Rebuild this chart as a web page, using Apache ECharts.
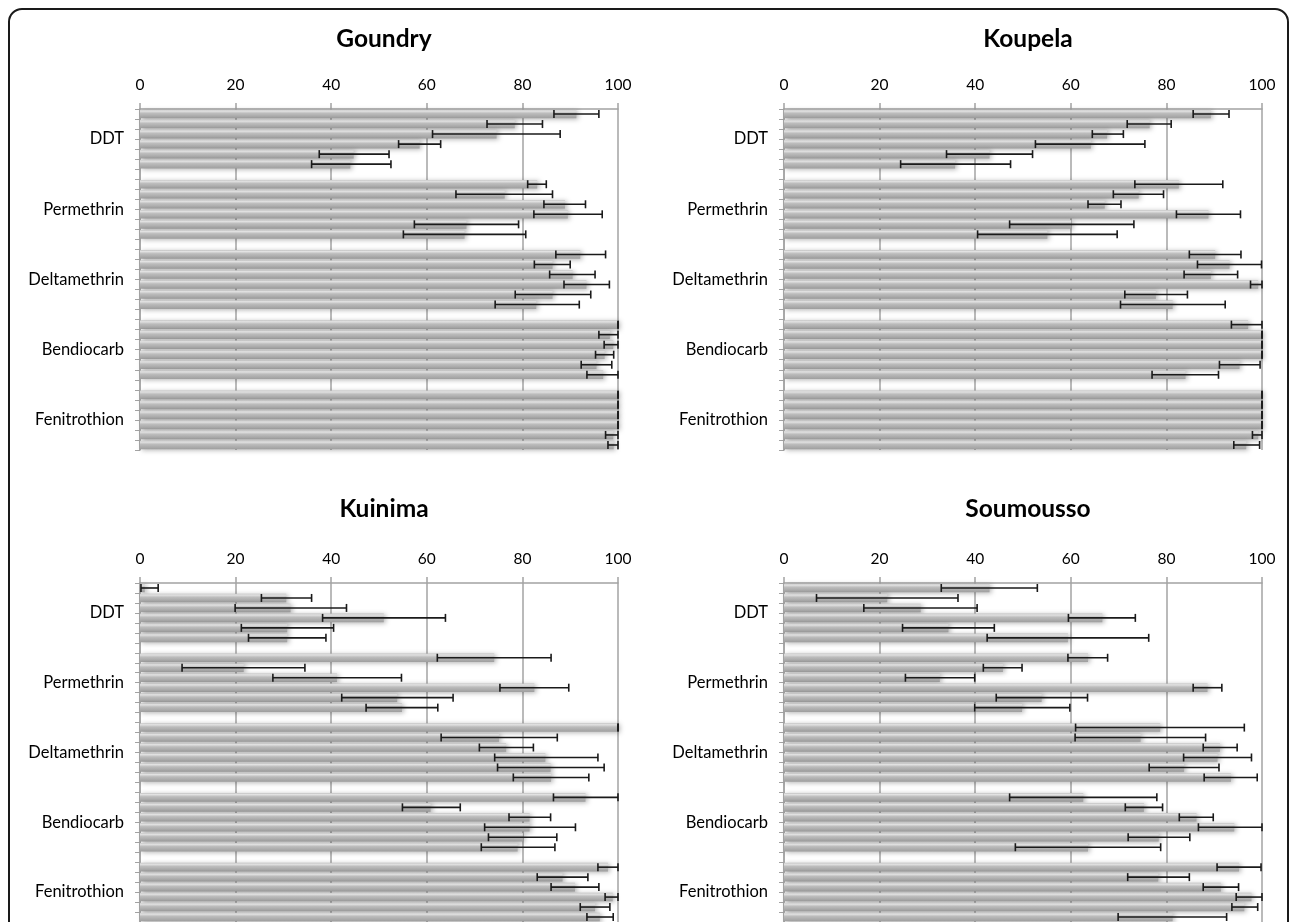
<!DOCTYPE html>
<html>
<head>
<meta charset="utf-8">
<script src="https://cdn.jsdelivr.net/npm/echarts@6/dist/echarts.min.js"></script>
<style>
html,body{margin:0;padding:0;background:#fff;}
#main{width:1293px;height:922px;}
</style>
</head>
<body>
<div id="main"></div>
<script>
// ---------- DATA ----------
var sites = ['Goundry', 'Koupela', 'Kuinima', 'Soumousso'];
var insecticides = ['DDT', 'Permethrin', 'Deltamethrin', 'Bendiocarb', 'Fenitrothion'];
var xTicks = [0, 20, 40, 60, 80, 100];

// mortality (%) for 6 bars in each of the 5 insecticide groups (30 per site)
var goundryMean = [91.3, 78.4, 74.6, 58.5, 44.7, 44.0,
                   83.1, 76.3, 88.9, 89.5, 68.3, 67.9,
                   92.1, 86.3, 90.5, 93.4, 86.3, 82.9,
                   100, 98.3, 99.0, 97.2, 95.5, 96.9,
                   100, 100, 100, 100, 99.0, 99.1];
var goundryLow  = [86.6, 72.6, 61.2, 54.1, 37.5, 35.9,
                   81.1, 66.1, 84.5, 82.4, 57.4, 55.1,
                   87.0, 82.5, 85.7, 88.7, 78.5, 74.3,
                   100, 96.0, 97.1, 95.3, 92.3, 93.5,
                   100, 100, 100, 100, 97.4, 97.9];
var goundryHigh = [96.0, 84.2, 87.9, 62.9, 52.1, 52.5,
                   85.0, 86.3, 93.2, 96.7, 79.2, 80.7,
                   97.4, 90.0, 95.2, 98.2, 94.3, 91.9,
                   100, 100, 100, 99.1, 98.7, 100,
                   100, 100, 100, 100, 100, 100];

var koupelaMean = [89.3, 76.5, 67.6, 64.2, 43.0, 35.8,
                   82.6, 74.2, 67.1, 88.8, 60.1, 55.1,
                   90.2, 93.2, 89.3, 99.2, 77.8, 81.3,
                   97.1, 100, 100, 100, 95.3, 84.0,
                   100, 100, 100, 100, 99.2, 96.7];
var koupelaLow  = [85.6, 71.8, 64.5, 52.6, 34.0, 24.4,
                   73.4, 68.9, 63.6, 82.1, 47.2, 40.5,
                   84.8, 86.5, 83.7, 97.6, 71.3, 70.4,
                   93.6, 100, 100, 100, 91.1, 77.0,
                   100, 100, 100, 100, 98.0, 94.1];
var koupelaHigh = [93.1, 81.0, 71.0, 75.5, 52.0, 47.4,
                   91.8, 79.4, 70.5, 95.5, 73.2, 69.7,
                   95.6, 99.9, 94.9, 100, 84.4, 92.3,
                   100, 100, 100, 100, 99.6, 90.9,
                   100, 100, 100, 100, 100, 99.5];

var kuinimaMean = [1.0, 30.6, 31.5, 51.0, 30.8, 30.8,
                   74.1, 21.7, 41.2, 82.5, 53.8, 54.8,
                   100, 75.1, 76.6, 84.8, 85.9, 86.0,
                   93.2, 60.8, 81.5, 81.5, 80.1, 79.0,
                   97.9, 88.4, 91.0, 98.9, 95.2, 96.2];
var kuinimaLow  = [0.2, 25.4, 19.9, 38.2, 21.2, 22.7,
                   62.2, 8.8, 27.8, 75.3, 42.2, 47.3,
                   100, 63.0, 71.0, 74.2, 74.8, 78.1,
                   86.5, 54.9, 77.2, 72.1, 72.9, 71.4,
                   95.8, 83.1, 86.0, 97.3, 92.1, 93.5];
var kuinimaHigh = [3.8, 35.9, 43.2, 63.9, 40.5, 38.9,
                   86.0, 34.5, 54.7, 89.7, 65.5, 62.3,
                   100, 87.3, 82.3, 95.8, 97.1, 93.9,
                   100, 67.0, 85.9, 91.1, 87.2, 86.8,
                   100, 93.7, 96.0, 100, 98.3, 99.0];

var soumoussoMean = [43.0, 21.6, 28.6, 66.6, 34.4, 59.4,
                     63.6, 45.8, 32.6, 88.6, 53.9, 49.8,
                     78.7, 74.6, 91.2, 90.7, 83.7, 93.5,
                     62.6, 75.3, 86.3, 94.2, 78.4, 63.6,
                     95.2, 78.3, 91.4, 97.8, 96.3, 81.3];
var soumoussoLow  = [32.9, 6.8, 16.7, 59.5, 24.8, 42.5,
                     59.4, 41.7, 25.4, 85.6, 44.4, 39.9,
                     61.0, 60.9, 87.7, 83.6, 76.4, 87.9,
                     47.2, 71.4, 82.7, 86.7, 72.0, 48.4,
                     90.6, 71.9, 87.7, 94.6, 93.7, 69.9];
var soumoussoHigh = [53.0, 36.4, 40.4, 73.5, 44.0, 76.3,
                     67.7, 49.8, 39.9, 91.6, 63.5, 59.8,
                     96.3, 88.2, 94.8, 97.8, 91.0, 99.0,
                     78.0, 79.2, 89.8, 100, 84.9, 78.8,
                     99.8, 84.8, 95.1, 100, 99.1, 92.6];

var siteData = [
  [goundryMean, goundryLow, goundryHigh],
  [koupelaMean, koupelaLow, koupelaHigh],
  [kuinimaMean, kuinimaLow, kuinimaHigh],
  [soumoussoMean, soumoussoLow, soumoussoHigh]
];

// ---------- LAYOUT ----------
var BARS = 6, GAP = 1;
var nSlots = insecticides.length * (BARS + GAP) - GAP; // 34
var slotNames = [];
for (var s = 0; s < nSlots; s++) slotNames.push('s' + s);
var groupLabelAt = {};
insecticides.forEach(function (n, g) { groupLabelAt[g * (BARS + GAP) + BARS / 2] = n; });

var grids = [
  {left: 140, top: 109, width: 478, height: 341},
  {left: 784, top: 109, width: 478, height: 341},
  {left: 140, top: 583, width: 478, height: 341},
  {left: 784, top: 583, width: 478, height: 341}
];
var titleTops = [22, 22, 492, 492];

var FONT = 'Lato, "Open Sans", sans-serif';
var gridColor = '#a3a3a3';

var barColor = new echarts.graphic.LinearGradient(0, 0, 0, 1, [
  {offset: 0, color: '#c4c4c4'},
  {offset: 0.16, color: '#e2e2e2'},
  {offset: 0.42, color: '#bcbcbc'},
  {offset: 1, color: '#9e9e9e'}
]);

var option = {
  backgroundColor: '#fff',
  animation: false,
  graphic: [{
    type: 'rect',
    shape: {x: 9, y: 9, width: 1279, height: 1000, r: 13},
    style: {fill: 'none', stroke: '#1a1a1a', lineWidth: 2},
    silent: true, z: 100
  }],
  title: [], grid: [], xAxis: [], yAxis: [], series: []
};

sites.forEach(function (name, i) {
  var g = grids[i];
  option.title.push({
    text: name,
    left: g.left + g.width / 2,
    top: titleTops[i],
    textAlign: 'center',
    textStyle: {fontFamily: FONT, fontSize: 24.5, fontWeight: 'bold', color: '#000'}
  });
  option.grid.push({left: g.left, top: g.top, width: g.width, height: g.height, containLabel: false});
  option.xAxis.push({
    type: 'value', gridIndex: i, position: 'top',
    min: xTicks[0], max: xTicks[xTicks.length - 1], interval: xTicks[1] - xTicks[0],
    axisLine: {show: true, lineStyle: {color: gridColor, width: 1.5}},
    axisTick: {show: true, length: 6, lineStyle: {color: gridColor, width: 1.5}},
    axisLabel: {fontFamily: FONT, fontSize: 15.5, color: '#000', margin: 16},
    splitLine: {show: true, lineStyle: {color: gridColor, width: 1.5}}
  });
  option.yAxis.push({
    type: 'category', gridIndex: i, position: 'left', inverse: true,
    data: slotNames,
    axisLine: {show: true, lineStyle: {color: gridColor, width: 1.5}},
    axisTick: {show: true, length: 5, interval: 0, lineStyle: {color: gridColor, width: 1}},
    axisLabel: {show: false},
    splitLine: {show: false}
  });
  option.yAxis.push({
    type: 'value', gridIndex: i, position: 'left', inverse: true,
    min: 0, max: nSlots, interval: 1,
    axisLine: {show: false}, axisTick: {show: false}, splitLine: {show: false},
    axisLabel: {
      fontFamily: FONT, fontSize: 16.5, color: '#000', margin: 16,
      formatter: function (v) { return groupLabelAt[v] || ''; }
    }
  });

  var mean = siteData[i][0], low = siteData[i][1], high = siteData[i][2];
  var barData = [], errData = [];
  for (var s = 0; s < nSlots; s++) { barData.push(null); }
  for (var k = 0; k < mean.length; k++) {
    var grp = Math.floor(k / BARS), idx = k % BARS;
    var slot = grp * (BARS + GAP) + idx;
    barData[slot] = mean[k];
    errData.push([slot, low[k], high[k]]);
  }
  option.series.push({
    type: 'bar', xAxisIndex: i, yAxisIndex: i * 2,
    data: barData, barCategoryGap: '14%',
    itemStyle: {
      color: barColor,
      shadowColor: 'rgba(0,0,0,0.3)', shadowBlur: 5, shadowOffsetX: 2, shadowOffsetY: 1
    },
    silent: true
  });
  option.series.push({
    type: 'custom', xAxisIndex: i, yAxisIndex: i * 2,
    data: errData, z: 10, silent: true,
    renderItem: function (params, api) {
      var cat = api.value(0);
      var p1 = api.coord([api.value(1), cat]);
      var p2 = api.coord([api.value(2), cat]);
      var h = 4;
      var st = {stroke: '#1a1a1a', lineWidth: 1.6, fill: null};
      return {
        type: 'group',
        children: [
          {type: 'line', shape: {x1: p1[0], y1: p1[1], x2: p2[0], y2: p2[1]}, style: st},
          {type: 'line', shape: {x1: p1[0], y1: p1[1] - h, x2: p1[0], y2: p1[1] + h}, style: st},
          {type: 'line', shape: {x1: p2[0], y1: p2[1] - h, x2: p2[0], y2: p2[1] + h}, style: st}
        ]
      };
    },
    encode: {x: [1, 2], y: 0}
  });
});

var chart = echarts.init(document.getElementById('main'), null, {renderer: 'canvas'});
chart.setOption(option);
</script>
</body>
</html>
